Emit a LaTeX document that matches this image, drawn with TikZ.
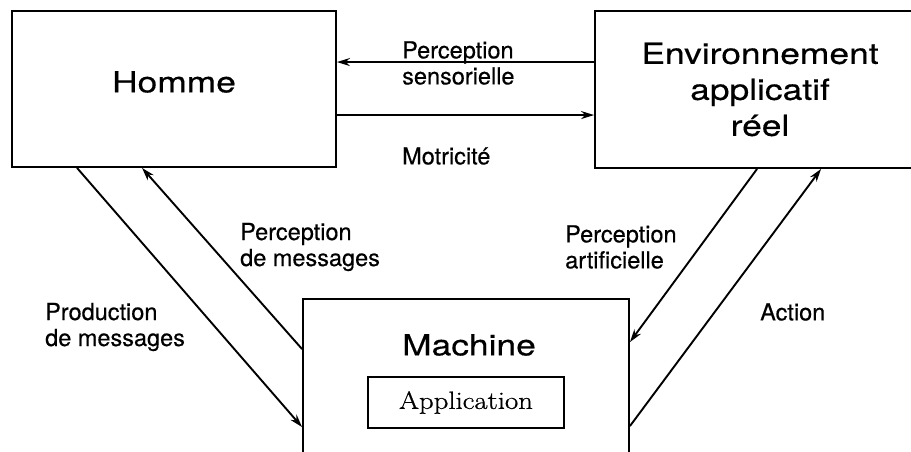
\documentclass[tikz,border=0pt]{standalone}
\usepackage{fontspec}
\usepackage{tikz}
\usetikzlibrary{shapes,arrows.meta}
\newfontfamily\heros[FakeBold=0.4]{TeX Gyre Heros}
\newfontfamily\herosbig[FakeStretch=1.22,FakeBold=0.4]{TeX Gyre Heros}
\newfontfamily\appfont[FakeStretch=1.15,FakeBold=0.8]{Latin Modern Roman}

\begin{document}
\begin{tikzpicture}[x=1pt,y=-1pt]
    % Define block styles
    \tikzstyle{block} = [rectangle, draw=black, line width=1.9pt, inner sep=0pt, align=center, font=\herosbig\fontsize{29}{36}\selectfont]
    \tikzstyle{title} = [inner sep=0pt, font=\herosbig\fontsize{29}{36}\selectfont]
    \tikzstyle{appbox} = [rectangle, draw=black, line width=1.6pt, minimum width=196pt, minimum height=51pt, font=\appfont\fontsize{25}{30}\selectfont]
    \tikzstyle{lbl} = [inner sep=0pt, anchor=west, align=left, font=\heros\fontsize{23.5}{26}\selectfont]
    \tikzstyle{arrow} = [line width=1.9pt, ->, >={Stealth[length=13pt,width=8pt]}]

    \clip (0,0) rectangle (911,452);

    % Draw nodes
    \node (homme) [block, minimum width=324pt, minimum height=156pt] at (174,89) {};
    \node (hommetxt) [title] at (174,82) {Homme};
    \node (env) [block, minimum width=330pt, minimum height=157pt] at (760,89.5) {Environnement\\applicatif\\réel};
    \node (machine) [block, minimum width=326pt, minimum height=171pt] at (466,384.5) {};
    \node (machinetxt) [title] at (469,345) {Machine};
    \node (appli) [appbox] at (466,402.5) {Application};

    % Draw labels
    \node (lsens) [lbl] at (402,63) {Perception\\sensorielle};
    \node (lmotr) [lbl] at (402,156) {Motricité};
    \node (lpmes) [lbl] at (240,247) {Perception\\de messages};
    \node (lprod) [lbl] at (45,327) {Production\\de messages};
    \node (lart) [lbl] at (565,247) {Perception\\artificielle};
    \node (lact) [lbl] at (760,312) {Action};

    % Draw edges
    \draw [arrow] ([yshift=-52pt]env.north west) -- ([yshift=-52pt]homme.north east);
    \draw [arrow] ([yshift=-105pt]homme.north east) -- ([yshift=-105pt]env.north west);
    \draw [arrow] ([xshift=66pt]homme.south west) -- ([yshift=-129pt]machine.north west);
    \draw [arrow] ([yshift=-51pt]machine.north west) -- ([xshift=131pt]homme.south west);
    \draw [arrow] ([xshift=163pt]env.south west) -- ([yshift=-44pt]machine.north east);
    \draw [arrow] ([yshift=-128pt]machine.north east) -- ([xshift=227pt]env.south west);

\end{tikzpicture}
\end{document}
